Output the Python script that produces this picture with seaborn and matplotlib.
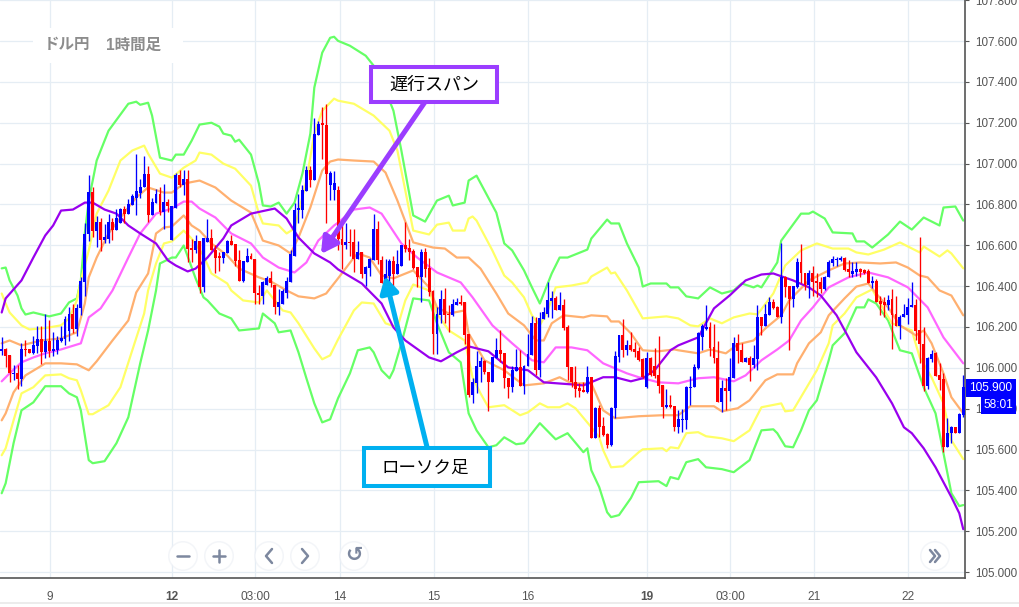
import pandas as pd
import numpy as np
import matplotlib
matplotlib.use("Agg")
import matplotlib.pyplot as plt
import seaborn as sns
from matplotlib.patches import Rectangle, Circle, FancyArrowPatch

# ---------- Candles (one per hour) ----------
opens = [
    106.081,106.090,106.061,105.968,105.973,105.944,106.090,106.090,106.071,106.105,
    106.139,106.076,106.129,106.081,106.086,106.129,106.139,106.178,106.262,106.188,
    106.291,106.418,106.653,106.863,106.672,106.716,106.628,106.633,106.716,106.677,
    106.707,106.780,106.755,106.799,106.834,106.858,106.883,106.951,106.746,106.809,
    106.853,106.765,106.814,106.628,106.785,106.946,106.897,106.927,106.589,106.579,
    106.623,106.398,106.618,106.638,106.579,106.545,106.540,106.560,106.623,106.604,
    106.526,106.423,106.516,106.550,106.535,106.364,106.354,106.408,106.438,106.408,
    106.296,106.315,106.364,106.418,106.550,106.775,106.775,106.868,106.971,106.922,
    107.142,107.196,107.191,106.897,106.873,106.873,106.633,106.599,106.614,106.614,
    106.535,106.565,106.457,106.491,106.526,106.682,106.526,106.413,106.452,106.521,
    106.457,106.501,106.599,106.589,106.570,106.496,106.443,106.565,106.491,106.374,
    106.164,106.257,106.335,106.262,106.257,106.310,106.320,106.320,106.164,105.865,
    105.924,106.002,106.032,105.978,105.929,106.046,106.086,106.071,105.949,105.905,
    105.983,106.002,105.909,106.007,106.061,106.218,105.988,106.237,106.266,106.325,
    106.340,106.281,106.310,106.198,106.002,105.929,105.900,105.890,105.880,105.953,
    105.655,105.802,105.714,105.675,105.621,105.802,106.051,106.159,106.086,106.110,
    106.090,106.081,106.042,105.905,106.046,106.007,105.963,105.914,105.807,105.817,
    105.812,105.709,105.743,105.743,105.900,105.905,105.998,106.149,106.188,106.198,
    106.100,106.046,105.831,105.900,105.885,105.949,106.120,106.086,106.027,106.046,
    106.012,106.042,106.247,106.203,106.257,106.320,106.296,106.247,106.447,106.403,
    106.335,106.398,106.516,106.462,106.408,106.462,106.423,106.418,106.384,106.443,
    106.511,106.526,106.526,106.540,106.482,106.457,106.467,106.486,106.477,106.472,
    106.413,106.423,106.325,106.320,106.306,106.335,106.262,106.203,106.247,106.257,
    106.296,106.310,106.183,106.115,105.909,106.042,106.071,105.963,105.944,105.611,
    105.680,105.709,105.680,105.768,
]
closes = [
    106.090,106.056,105.973,105.973,105.944,106.090,106.086,106.071,106.110,106.139,
    106.076,106.129,106.081,106.090,106.134,106.144,106.237,106.262,106.188,106.291,
    106.423,106.653,106.863,106.672,106.716,106.628,106.643,106.716,106.677,106.736,
    106.780,106.755,106.804,106.839,106.868,106.883,106.951,106.746,106.814,106.853,
    106.765,106.814,106.790,106.790,106.946,106.897,106.927,106.584,106.579,106.623,
    106.398,106.638,106.638,106.575,106.540,106.540,106.565,106.623,106.599,106.521,
    106.423,106.521,106.550,106.535,106.364,106.359,106.418,106.438,106.413,106.296,
    106.320,106.374,106.423,106.555,106.775,106.780,106.873,106.971,106.922,107.147,
    107.196,107.191,106.951,106.956,106.907,106.633,106.599,106.614,106.609,106.535,
    106.565,106.457,106.496,106.531,106.682,106.526,106.413,106.457,106.521,106.457,
    106.506,106.599,106.584,106.565,106.491,106.443,106.565,106.486,106.369,106.164,
    106.262,106.335,106.257,106.257,106.315,106.320,106.315,106.159,105.865,105.929,
    106.007,106.032,105.978,105.929,106.051,106.086,106.066,105.949,105.905,105.988,
    106.002,105.909,106.007,106.066,106.218,105.988,106.242,106.271,106.330,106.340,
    106.281,106.310,106.193,106.002,105.929,105.895,105.885,105.880,105.953,105.655,
    105.802,105.709,105.670,105.621,105.802,106.056,106.159,106.086,106.110,106.086,
    106.076,106.037,105.953,106.046,105.963,105.958,105.909,105.807,105.817,105.807,
    105.709,105.748,105.748,105.905,105.905,106.002,106.169,106.203,106.198,106.095,
    106.046,105.831,105.900,105.885,105.953,106.120,106.081,106.027,106.046,106.012,
    106.046,106.247,106.203,106.262,106.320,106.291,106.247,106.447,106.398,106.335,
    106.403,106.516,106.462,106.408,106.462,106.418,106.413,106.384,106.443,106.516,
    106.531,106.531,106.540,106.477,106.467,106.472,106.486,106.467,106.462,106.413,
    106.423,106.320,106.315,106.306,106.330,106.257,106.203,106.247,106.262,106.296,
    106.310,106.178,106.115,105.909,106.046,106.066,105.958,105.939,105.611,105.680,
    105.709,105.680,105.773,105.905,
]
highs = [
    106.149,106.095,106.061,106.012,106.012,106.120,106.134,106.090,106.154,106.203,
    106.203,106.266,106.232,106.174,106.154,106.203,106.252,106.296,106.315,106.315,
    106.443,106.711,106.946,106.887,106.741,106.736,106.702,106.755,106.736,106.780,
    106.785,106.790,106.829,106.853,107.049,106.927,107.039,106.990,106.834,106.878,
    106.887,106.902,106.829,106.790,106.956,106.971,106.971,106.971,106.633,106.648,
    106.623,106.638,106.731,106.682,106.599,106.565,106.565,106.628,106.648,106.604,
    106.575,106.521,106.589,106.560,106.535,106.408,106.423,106.452,106.472,106.408,
    106.384,106.384,106.443,106.579,106.809,106.853,106.897,106.990,106.990,107.225,
    107.210,107.279,107.293,106.966,106.966,106.892,106.711,106.711,106.682,106.682,
    106.623,106.565,106.501,106.540,106.751,106.721,106.550,106.535,106.535,106.550,
    106.575,106.599,106.716,106.633,106.584,106.496,106.584,106.589,106.540,106.379,
    106.296,106.379,106.389,106.306,106.335,106.340,106.359,106.320,106.164,105.949,
    106.081,106.051,106.037,105.978,106.051,106.144,106.183,106.071,105.949,106.007,
    106.090,106.086,106.012,106.164,106.252,106.247,106.271,106.296,106.418,106.374,
    106.354,106.369,106.335,106.208,106.002,106.007,105.924,105.929,106.007,105.953,
    105.807,105.817,105.758,105.680,105.807,106.081,106.159,106.237,106.134,106.174,
    106.125,106.100,106.046,106.076,106.051,106.095,106.154,105.914,105.895,105.865,
    105.812,105.792,105.797,105.909,105.958,106.017,106.174,106.213,106.310,106.223,
    106.213,106.129,105.939,105.949,106.046,106.149,106.164,106.120,106.051,106.056,
    106.110,106.306,106.247,106.315,106.345,106.335,106.301,106.609,106.452,106.403,
    106.403,106.540,106.604,106.462,106.477,106.501,106.462,106.443,106.452,106.526,
    106.550,106.545,106.550,106.545,106.526,106.516,106.516,106.491,106.482,106.486,
    106.452,106.433,106.354,106.345,106.359,106.384,106.354,106.257,106.315,106.340,
    106.418,106.335,106.643,106.198,106.051,106.086,106.076,106.022,105.973,105.753,
    105.714,105.709,105.777,105.963,
]
lows = [
    106.061,106.002,105.929,105.939,105.895,105.909,106.056,106.071,106.066,106.071,
    106.017,106.046,106.051,106.056,106.066,106.125,106.110,106.129,106.169,106.154,
    106.257,106.350,106.623,106.643,106.594,106.570,106.609,106.609,106.628,106.677,
    106.707,106.711,106.755,106.799,106.746,106.834,106.883,106.716,106.746,106.809,
    106.746,106.682,106.765,106.628,106.785,106.883,106.848,106.516,106.516,106.560,
    106.364,106.369,106.618,106.575,106.462,106.472,106.511,106.560,106.599,106.501,
    106.423,106.418,106.516,106.535,106.315,106.315,106.315,106.408,106.394,106.262,
    106.257,106.315,106.340,106.418,106.550,106.711,106.736,106.868,106.887,106.922,
    107.142,107.024,106.711,106.824,106.824,106.575,106.486,106.584,106.550,106.467,
    106.535,106.438,106.403,106.452,106.526,106.506,106.413,106.394,106.413,106.389,
    106.457,106.501,106.565,106.526,106.482,106.398,106.320,106.443,106.354,106.066,
    106.066,106.218,106.218,106.174,106.252,106.306,106.306,106.115,105.856,105.826,
    105.875,105.929,105.968,105.787,105.929,106.046,106.027,105.900,105.851,105.880,
    105.983,105.909,105.870,106.007,106.061,105.963,105.953,106.237,106.247,106.242,
    106.281,106.281,106.183,105.939,105.905,105.856,105.856,105.880,105.875,105.655,
    105.655,105.660,105.665,105.606,105.616,105.753,106.027,106.051,106.061,106.081,
    106.051,106.032,105.949,105.900,105.958,105.949,105.875,105.753,105.802,105.802,
    105.689,105.680,105.685,105.699,105.817,105.905,105.993,106.086,106.183,106.056,
    106.022,105.831,105.782,105.792,105.836,105.949,106.022,106.027,106.027,105.934,
    105.998,105.988,106.159,106.203,106.257,106.286,106.247,106.218,106.345,106.086,
    106.296,106.389,106.413,106.379,106.340,106.354,106.345,106.364,106.379,106.443,
    106.501,106.501,106.521,106.472,106.443,106.447,106.452,106.447,106.457,106.413,
    106.389,106.320,106.257,106.247,106.281,106.090,106.203,106.139,106.247,106.213,
    106.296,106.134,106.022,105.885,105.895,106.027,105.958,105.890,105.587,105.611,
    105.631,105.680,105.680,105.758,
]

# ---------- Band readings: candle index and price ----------
green_up_x = [0,1,2,4,5,6,8,12,15,17,19,20,21,22,24,27,32,34,35,37,38,40,43,44,46,48,50,53,55,56,58,59,60,63,65,66,68,70,72,74,76,78,79,81,83,84,85,88,92,95,99,101,104,107,110,113,114,117,118,120,125,127,129,132,134,136,137,139,141,143,148,149,153,154,156,158,161,162,164,168,169,171,173,176,179,182,185,187,190,191,192,196,197,202,204,205,208,210,215,216,218,220,224,227,230,233,237,238,241,243]
green_up = [106.487,106.491,106.428,106.354,106.291,106.261,106.271,106.252,106.266,106.320,106.340,106.428,106.658,106.819,107.015,107.161,107.293,107.303,107.288,107.298,107.235,107.029,107.015,107.044,107.044,107.112,107.191,107.200,107.181,107.147,107.137,107.107,107.117,107.044,106.902,106.795,106.790,106.809,106.755,106.809,106.951,107.147,107.372,107.543,107.616,107.621,107.601,107.577,107.528,107.455,107.259,107.064,106.746,106.716,106.819,106.843,106.795,106.809,106.917,106.941,106.760,106.609,106.575,106.477,106.394,106.315,106.364,106.462,106.540,106.540,106.579,106.633,106.726,106.707,106.707,106.609,106.491,106.398,106.413,106.413,106.394,106.394,106.350,106.340,106.394,106.364,106.379,106.413,106.394,106.403,106.394,106.516,106.623,106.755,106.755,106.765,106.731,106.663,106.658,106.619,106.619,106.589,106.653,106.716,106.677,106.736,106.697,106.785,106.790,106.721]

yellow_up_x = [0,1,2,5,7,10,12,15,17,19,20,22,24,27,30,33,36,37,40,43,46,49,50,53,56,59,63,65,66,70,72,74,77,79,81,84,85,89,94,98,100,104,108,110,113,114,117,118,119,120,124,127,129,132,134,136,138,140,144,148,149,153,154,155,158,162,165,168,171,174,176,179,182,185,189,191,195,198,202,206,210,214,216,219,223,227,232,233,237,239,240,243]
yellow_up = [106.364,106.315,106.271,106.208,106.188,106.193,106.198,106.208,106.242,106.330,106.428,106.575,106.755,106.868,107.015,107.064,107.088,107.049,106.951,106.931,106.980,107.015,107.054,107.044,107.000,106.975,106.892,106.755,106.707,106.697,106.658,106.682,106.917,107.147,107.259,107.318,107.308,107.293,107.235,107.161,107.064,106.672,106.653,106.701,106.711,106.672,106.672,106.731,106.741,106.721,106.575,106.452,106.418,106.345,106.257,106.208,106.281,106.394,106.403,106.418,106.447,106.491,106.462,106.467,106.379,106.242,106.247,106.252,106.242,106.208,106.203,106.242,106.218,106.247,106.266,106.262,106.364,106.501,106.575,106.609,106.584,106.584,106.565,106.555,106.579,106.614,106.565,106.594,106.545,106.575,106.560,106.487]

orange_up_x = [0,2,5,10,15,19,21,22,24,27,32,34,37,41,43,46,50,54,58,63,66,70,73,75,78,81,83,85,89,94,97,100,104,109,112,115,118,121,125,128,132,135,137,139,142,147,149,153,154,156,159,162,166,170,171,176,179,183,186,190,193,197,199,204,209,213,217,222,226,229,232,234,237,240,243]
orange_up = [106.120,106.134,106.110,106.134,106.144,106.174,106.315,106.443,106.540,106.658,106.785,106.834,106.883,106.858,106.858,106.902,106.917,106.883,106.819,106.760,106.623,106.599,106.560,106.638,106.785,106.966,107.010,107.020,107.015,107.010,106.956,106.819,106.614,106.589,106.584,106.540,106.540,106.486,106.364,106.266,106.208,106.134,106.134,106.218,106.257,106.247,106.257,106.252,106.227,106.227,106.169,106.086,106.081,106.090,106.086,106.071,106.090,106.071,106.115,106.134,106.193,106.257,106.330,106.428,106.477,106.511,106.516,106.511,106.516,106.491,106.452,106.443,106.379,106.354,106.257]

magenta_x = [0,2,5,8,11,15,20,22,25,28,32,35,39,43,46,48,50,54,58,63,66,70,74,77,80,84,85,89,93,96,98,101,105,110,116,119,124,129,134,137,140,144,148,152,158,161,166,171,176,180,185,188,192,196,199,202,205,209,214,219,224,229,234,238,243]
magenta = [105.934,105.973,106.027,106.051,106.071,106.090,106.120,106.247,106.291,106.379,106.540,106.658,106.755,106.780,106.814,106.814,106.780,106.736,106.658,106.609,106.540,106.491,106.467,106.516,106.623,106.697,106.711,106.775,106.785,106.755,106.697,106.609,106.540,106.467,106.418,106.345,106.208,106.120,106.037,106.027,106.100,106.100,106.086,106.022,105.973,105.954,105.929,105.924,105.949,105.954,105.934,105.963,106.037,106.090,106.134,106.232,106.296,106.394,106.443,106.467,106.443,106.394,106.296,106.149,106.022]

orange_lo_x = [0,1,3,6,9,11,15,19,22,24,28,32,34,37,39,41,43,46,48,50,53,57,60,65,68,72,75,79,82,85,89,90,93,96,99,104,108,110,113,117,118,122,127,132,137,141,144,149,152,155,161,167,171,174,180,182,186,189,193,196,200,201,204,207,209,213,216,219,221,224,227,231,233,235,238,240,243]
orange_lo = [105.743,105.777,105.880,105.963,105.998,106.022,106.022,106.017,105.988,106.032,106.134,106.232,106.369,106.462,106.658,106.687,106.692,106.746,106.697,106.672,106.609,106.550,106.486,106.443,106.423,106.379,106.350,106.340,106.364,106.438,106.540,106.560,106.540,106.452,106.438,106.477,106.394,106.296,106.266,106.281,106.169,106.037,105.988,105.914,105.924,105.954,105.924,105.924,105.792,105.753,105.763,105.768,105.768,105.812,105.812,105.787,105.802,105.841,105.939,105.968,105.968,106.022,106.120,106.174,106.257,106.340,106.398,106.413,106.364,106.296,106.208,106.159,106.183,106.120,105.973,105.856,105.777]

yellow_lo_x = [0,1,3,5,8,11,15,17,19,20,22,23,27,30,33,36,37,39,41,43,46,48,51,53,57,58,61,65,67,71,73,75,79,81,83,85,89,91,94,97,100,102,104,108,110,113,117,119,121,123,127,131,133,136,138,141,143,145,149,151,152,154,157,161,162,167,168,169,171,173,176,178,182,185,189,192,197,198,200,203,206,209,210,213,216,220,222,225,230,232,235,238,240,243]
yellow_lo = [105.572,105.606,105.743,105.875,105.905,105.963,105.968,105.949,105.939,105.890,105.773,105.773,105.817,105.905,106.086,106.266,106.379,106.511,106.609,106.619,106.672,106.633,106.550,106.462,106.413,106.379,106.330,106.320,106.379,106.281,106.271,106.218,106.095,106.042,106.061,106.139,106.281,106.320,106.315,106.218,106.198,106.330,106.408,106.379,106.266,106.183,106.134,105.953,105.875,105.807,105.817,105.768,105.782,105.826,105.807,105.807,105.826,105.802,105.709,105.660,105.597,105.513,105.518,105.587,105.601,105.606,105.592,105.611,105.606,105.680,105.685,105.665,105.655,105.641,105.694,105.807,105.826,105.787,105.792,105.890,105.988,106.120,106.208,106.266,106.345,106.384,106.315,106.218,106.183,106.051,105.953,105.826,105.645,105.553]

green_lo_x = [0,1,3,5,8,11,15,17,19,20,22,23,26,29,32,35,37,39,40,43,44,46,49,51,52,55,58,60,65,66,69,70,73,75,77,79,81,83,85,88,90,93,94,96,98,99,101,104,108,110,113,116,118,120,123,125,127,130,132,136,140,143,147,148,149,151,153,154,156,159,161,166,168,169,171,173,176,178,182,185,189,192,195,196,198,200,202,204,206,209,210,213,216,218,219,221,224,227,230,233,236,238,240,242,243]
green_lo = [105.386,105.435,105.631,105.792,105.831,105.910,105.910,105.875,105.856,105.792,105.548,105.533,105.543,105.631,105.758,106.022,106.183,106.379,106.511,106.540,106.540,106.599,106.438,106.345,106.330,106.266,106.242,106.183,106.193,106.266,106.218,106.174,106.183,106.076,105.949,105.826,105.733,105.748,105.851,105.973,106.086,106.100,106.076,105.988,105.949,105.988,106.120,106.340,106.330,106.218,106.076,106.027,105.777,105.694,105.611,105.621,105.660,105.626,105.631,105.729,105.650,105.680,105.587,105.606,105.499,105.416,105.293,105.269,105.279,105.362,105.440,105.445,105.421,105.465,105.455,105.538,105.553,105.513,105.504,105.489,105.548,105.694,105.699,105.680,105.616,105.611,105.694,105.792,105.841,106.037,106.110,106.169,106.296,106.296,106.335,106.315,106.232,106.086,106.071,105.905,105.777,105.582,105.386,105.323,105.328]

purple_x = [0,1,5,8,11,13,15,18,21,23,26,29,32,35,39,42,44,47,49,52,56,58,63,69,72,75,79,83,85,91,96,99,102,108,111,115,118,123,128,133,137,144,147,152,155,159,162,165,169,171,176,180,184,188,192,195,200,204,207,211,214,216,221,225,228,230,233,236,240,242,243]
purple = [106.271,106.340,106.428,106.540,106.648,106.697,106.770,106.775,106.809,106.809,106.775,106.755,106.697,106.658,106.609,106.526,106.501,106.472,106.486,106.540,106.633,106.697,106.755,106.780,106.731,106.638,106.560,106.516,106.482,106.413,106.315,106.198,106.134,106.051,106.032,106.076,106.105,106.081,106.002,105.988,105.929,105.919,105.914,105.954,105.954,105.934,105.949,105.988,106.086,106.110,106.149,106.291,106.355,106.428,106.457,106.462,106.428,106.394,106.354,106.257,106.149,106.076,105.953,105.826,105.709,105.680,105.606,105.513,105.367,105.288,105.210]

# ---------- Axis labels ----------
y_ticks = [105.0,105.2,105.4,105.6,105.8,106.0,106.2,106.4,106.6,106.8,107.0,107.2,107.4,107.6,107.8]
x_ticks = [12.2,43.1,64.0,85.5,109.2,133.0,163.0,184.1,205.2,229.0]
x_labels = ["9","12","03:00","14","15","16","19","03:00","21","22"]
bold_labels = ["12","19"]
last_price = "105.900"
countdown = "58:01"

# ---------- Theme ----------
sns.set_style("whitegrid")
plt.rcParams["font.family"] = ["Liberation Sans", "Noto Sans CJK JP", "DejaVu Sans"]

GRID = "#e5edf4"
AXIS = "#555555"
LABEL = "#555555"
UP = "#0000ff"
DOWN = "#ff0000"
ARROW_PURPLE = "#9b3dff"
ARROW_BLUE = "#00b0f0"
BTN = "#7d889f"

BAND_COLORS = {
    "green_up": "#66ff66", "green_lo": "#66ff66",
    "yellow_up": "#ffff66", "yellow_lo": "#ffff66",
    "orange_up": "#ffb070", "orange_lo": "#ffb070",
    "magenta": "#ff66ff",
    "purple": "#9900ee",
}

bands = pd.concat([
    pd.DataFrame({"x": green_up_x, "price": green_up, "band": "green_up"}),
    pd.DataFrame({"x": green_lo_x, "price": green_lo, "band": "green_lo"}),
    pd.DataFrame({"x": yellow_up_x, "price": yellow_up, "band": "yellow_up"}),
    pd.DataFrame({"x": yellow_lo_x, "price": yellow_lo, "band": "yellow_lo"}),
    pd.DataFrame({"x": orange_up_x, "price": orange_up, "band": "orange_up"}),
    pd.DataFrame({"x": orange_lo_x, "price": orange_lo, "band": "orange_lo"}),
    pd.DataFrame({"x": magenta_x, "price": magenta, "band": "magenta"}),
    pd.DataFrame({"x": purple_x, "price": purple, "band": "purple"}),
])
candles = pd.DataFrame({"open": opens, "close": closes, "high": highs, "low": lows})
candles["x"] = candles.index
candles["color"] = np.where(candles["close"] >= candles["open"], UP, DOWN)

# ---------- Chart ----------
fig = plt.figure(figsize=(10.19, 6.07), dpi=100, facecolor="white")
ax = fig.add_axes([0, 1 - 578 / 607, 965 / 1019, 578 / 607], facecolor="white")

sns.lineplot(data=bands, x="x", y="price", hue="band", palette=BAND_COLORS,
             estimator=None, sort=False, lw=1.6, legend=False, ax=ax, zorder=2)

ax.vlines(candles["x"], candles["low"], candles["high"], colors=candles["color"], lw=0.95, zorder=3)
body_low = candles[["open", "close"]].min(axis=1)
body_h = (candles["open"] - candles["close"]).abs().clip(lower=0.006)
ax.bar(candles["x"], body_h, bottom=body_low, width=0.74, color=candles["color"], lw=0, zorder=4)

ax.set_xlim(-0.43, 243.44)
ax.set_ylim(104.971, 107.801)
ax.set_xticks(x_ticks)
ax.set_xticklabels(x_labels)
ax.set_yticks(y_ticks)
ax.set_yticklabels([f"{v:.3f}" for v in y_ticks])
ax.yaxis.tick_right()
ax.set_xlabel("")
ax.set_ylabel("")
ax.grid(True, color=GRID, lw=0.9)
ax.set_axisbelow(True)
ax.tick_params(axis="x", length=4, width=0.8, color=AXIS, labelcolor=LABEL, labelsize=8.6, pad=5)
ax.tick_params(axis="y", length=3, width=0.8, color=AXIS, labelcolor=LABEL, labelsize=8.4, pad=4, right=True)
for lab in ax.get_xticklabels():
    if lab.get_text() in bold_labels:
        lab.set_fontweight("bold")
for side in ["top", "left"]:
    ax.spines[side].set_visible(False)
for side in ["right", "bottom"]:
    ax.spines[side].set_color(AXIS)
    ax.spines[side].set_linewidth(1.2)

# ---------- Overlay in image pixels ----------
ov = fig.add_axes([0, 0, 1, 1])
ov.set_xlim(0, 1019)
ov.set_ylim(607, 0)
ov.axis("off")
ov.patch.set_alpha(0)

ov.plot([0, 1019], [603, 603], color="#e9e9e9", lw=1.2)

# title tag
ov.add_patch(Rectangle((33, 28), 150, 35, fc="white", ec="none"))
ov.text(44, 45, "ドル円", color="#8c8c8c", fontsize=11.2, fontweight="bold", va="center", ha="left")
ov.text(106, 45, "1時間足", color="#8c8c8c", fontsize=11.2, fontweight="bold", va="center", ha="left")

# last price tags
ov.add_patch(Rectangle((966, 379), 50, 18, fc=UP, ec="none"))
ov.text(991, 388, last_price, color="white", fontsize=8.6, va="center", ha="center")
ov.add_patch(Rectangle((981, 397), 35, 17, fc=UP, ec="none"))
ov.text(998.5, 405.5, countdown, color="white", fontsize=8.6, va="center", ha="center")

# zoom buttons
for cx in [183, 219, 269, 305, 354, 935]:
    ov.add_patch(Circle((cx, 556), 15, fc="#eef1f6", ec="none", alpha=0.7))
    ov.add_patch(Circle((cx, 556), 13.5, fc="white", ec="none"))
ov.plot([177, 189], [556, 556], color=BTN, lw=1.8)
ov.plot([213, 225], [556, 556], color=BTN, lw=1.8)
ov.plot([219, 219], [550, 562], color=BTN, lw=1.8)
ov.plot([272, 266, 272], [549, 556, 563], color=BTN, lw=1.8)
ov.plot([302, 308, 302], [549, 556, 563], color=BTN, lw=1.8)
ov.text(354, 555, "↺", color=BTN, fontsize=15, family="DejaVu Sans", va="center", ha="center", fontweight="bold")
ov.plot([930, 935, 930], [550, 556, 562], color=BTN, lw=1.8)
ov.plot([935, 940, 935], [550, 556, 562], color=BTN, lw=1.8)

# callouts
ov.add_patch(FancyArrowPatch((425, 102), (321, 254), arrowstyle="-|>,head_width=0.42,head_length=0.75",
                             mutation_scale=13, lw=3.6, color=ARROW_PURPLE, shrinkA=0, shrinkB=0, zorder=5))
ov.add_patch(FancyArrowPatch((427, 447), (385, 276), arrowstyle="-|>,head_width=0.42,head_length=0.75",
                             mutation_scale=13, lw=3.6, color=ARROW_BLUE, shrinkA=0, shrinkB=0, zorder=5))
ov.add_patch(Rectangle((371, 67), 126, 35, fc="white", ec=ARROW_PURPLE, lw=2.9, zorder=6))
ov.text(434, 85, "遅行スパン", color="black", fontsize=13, va="center", ha="center", zorder=7)
ov.add_patch(Rectangle((364, 448), 126, 38, fc="white", ec=ARROW_BLUE, lw=2.9, zorder=6))
ov.text(425, 468, "ローソク足", color="black", fontsize=12.6, va="center", ha="center", zorder=7)

fig.savefig("out.png", dpi=100)
plt.close(fig)
